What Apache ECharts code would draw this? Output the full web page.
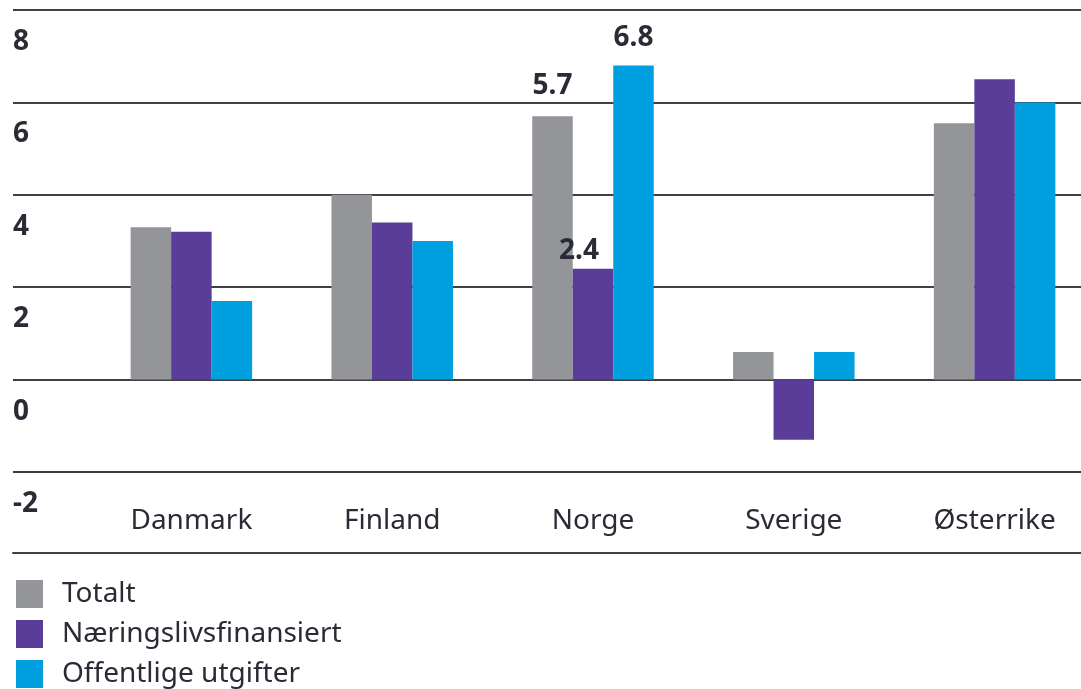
<!DOCTYPE html>
<html>
<head>
<meta charset="utf-8">
<script src="https://cdn.jsdelivr.net/npm/echarts@6/dist/echarts.min.js"></script>
<style>
  html, body { margin: 0; padding: 0; background: #ffffff; }
  #chart { width: 1081px; height: 689px; }
</style>
</head>
<body>
<div id="chart"></div>
<script>
// ---- data ----
const categories = ['Danmark', 'Finland', 'Norge', 'Sverige', 'Østerrike'];
const seriesNames = ['Totalt', 'Næringslivsfinansiert', 'Offentlige utgifter'];
const totalt = [3.3, 4.0, 5.7, 0.6, 5.55];
const naeringsliv = [3.2, 3.4, 2.4, -1.3, 6.5];
const offentlige = [1.7, 3.0, 6.8, 0.6, 6.0];
const yMin = -2, yMax = 8, yInterval = 2;
const labeledCategory = 'Norge';

// ---- styles ----
const colors = ['#939598', '#5a3d98', '#009fdf'];
const textColor = '#2b2b35';
const lineColor = '#404040';
const font = 'Noto Sans';
const labelStyles = [
  { position: 'top', distance: 16, offset: [0, 0] },
  { position: 'top', distance: 4, offset: [-14, 0] },
  { position: 'top', distance: 13, offset: [0, 0] }
];

const seriesValues = [totalt, naeringsliv, offentlige];

const chart = echarts.init(document.getElementById('chart'), null, { renderer: 'canvas' });

const series = seriesValues.map((vals, si) => ({
  name: seriesNames[si],
  type: 'bar',
  xAxisIndex: 1,
  yAxisIndex: 1,
  barWidth: 40.5,
  barGap: '0%',
  itemStyle: { color: colors[si] },
  data: vals.map((v, ci) => {
    const item = { value: v };
    if (categories[ci] === labeledCategory) {
      item.label = {
        show: true,
        position: labelStyles[si].position,
        distance: labelStyles[si].distance,
        offset: labelStyles[si].offset,
        formatter: (p) => p.value.toFixed(1),
        fontFamily: font,
        fontWeight: 'bold',
        fontSize: 28,
        color: textColor
      };
    }
    return item;
  })
}));

const option = {
  backgroundColor: '#ffffff',
  animation: false,
  color: colors,
  grid: [
    { left: 13, right: 0, top: 10, height: 462, outerBoundsMode: 'none', containLabel: false },
    { left: 91, width: 1004, top: 10, height: 462, outerBoundsMode: 'none', containLabel: false }
  ],
  xAxis: [
    {
      type: 'value', gridIndex: 0, min: 0, max: 1, offset: 81, position: 'bottom',
      axisLine: { show: true, onZero: false, lineStyle: { color: lineColor, width: 2 } },
      axisTick: { show: false }, axisLabel: { show: false }, splitLine: { show: false }
    },
    {
      type: 'category', gridIndex: 1, data: categories,
      axisLine: { show: false }, axisTick: { show: false },
      axisLabel: { margin: 35, fontFamily: font, fontSize: 28, color: textColor }
    }
  ],
  yAxis: [
    {
      type: 'value', gridIndex: 0, min: yMin, max: yMax, interval: yInterval,
      axisLine: { show: false }, axisTick: { show: false },
      splitLine: { show: true, lineStyle: { color: lineColor, width: 2 } },
      axisLabel: {
        inside: true, margin: 0, align: 'left', verticalAlign: 'top',
        padding: [18, 0, 0, 0],
        fontFamily: font, fontWeight: 'bold', fontSize: 28, color: textColor
      }
    },
    {
      type: 'value', gridIndex: 1, min: yMin, max: yMax, interval: yInterval,
      show: false, splitLine: { show: false }
    }
  ],
  legend: {
    data: seriesNames,
    orient: 'vertical',
    left: 16,
    top: 580,
    padding: 0,
    itemWidth: 27,
    itemHeight: 28,
    itemGap: 12,
    icon: 'rect',
    selectedMode: false,
    textStyle: { fontFamily: font, fontSize: 28, color: textColor, padding: [0, 0, 0, 14] }
  },
  series: series
};

chart.setOption(option);
</script>
</body>
</html>
